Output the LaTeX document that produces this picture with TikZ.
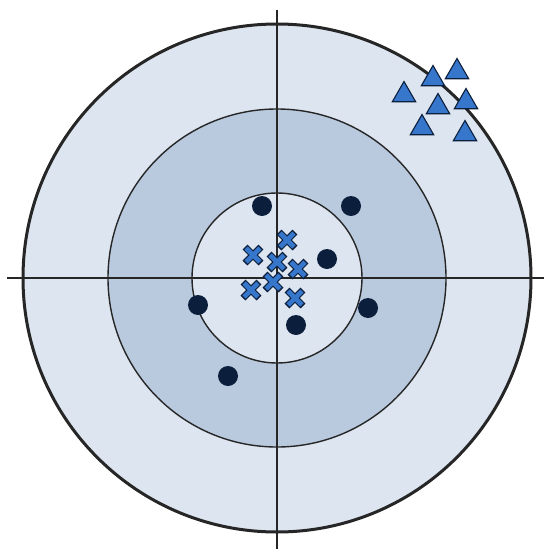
\documentclass[tikz,border=0pt]{standalone}
\usepackage{tikz}
\usetikzlibrary{shapes.geometric}
\definecolor{ringlight}{HTML}{DCE5F0}
\definecolor{ringmid}{HTML}{B9CADF}
\definecolor{navy}{HTML}{0B1E3B}
\definecolor{markblue}{HTML}{3677CC}
\tikzset{
  ring/.style={draw=black!85, line width=1.4pt},
  axis/.style={draw=black!85, line width=1.3pt},
  dot/.style={circle, fill=navy, minimum size=20pt, inner sep=0pt},
  tri/.style={regular polygon, regular polygon sides=3, fill=markblue, draw=navy, line width=1.1pt, minimum size=27pt, inner sep=0pt},
  xmark/.pic={
    \draw[navy, line width=7pt] (-8,-8) -- (8,8) (-8,8) -- (8,-8);
    \draw[markblue, line width=4.6pt] (-6.9,-6.9) -- (6.9,6.9) (-6.9,6.9) -- (6.9,-6.9);
    \fill[markblue] (0,0) circle[radius=2.4pt];}}

\begin{document}
\begin{tikzpicture}[x=1pt, y=-1pt]
  \useasboundingbox (0,0) rectangle (544,549);
  \coordinate (c) at (277,278);
  % target rings
  \fill[ringlight] (c) circle[radius=254pt];
  \fill[ringmid] (c) circle[radius=169pt];
  \fill[ringlight] (c) circle[radius=85pt];
  \draw[ring] (c) circle[radius=169pt];
  \draw[ring] (c) circle[radius=85pt];
  \draw[ring, line width=3pt] (c) circle[radius=254pt];
  % crosshair
  \coordinate (west) at (7,278);  \coordinate (east) at (544,278);
  \coordinate (north) at (277,10); \coordinate (south) at (277,549);
  \draw[axis] (west) -- (east);
  \draw[axis] (north) -- (south);
  % shots
  \foreach \p [count=\i] in {(262,206),(351,206),(327,259),(198,305),(368,308),(296,325),(228,376)}
    \node[dot] (dot\i) at \p {};
  \foreach \p [count=\i] in {(287,240),(253,255),(277,262),(298,269),(273,282),(251,290),(295,298)}
    \pic (cross\i) at \p {xmark};
  \foreach \p [count=\i] in {(433,79),(457,72),(404,95),(438,107),(466,102),(422,128),(465,134)}
    \node[tri] (tri\i) at \p {};
\end{tikzpicture}
\end{document}
